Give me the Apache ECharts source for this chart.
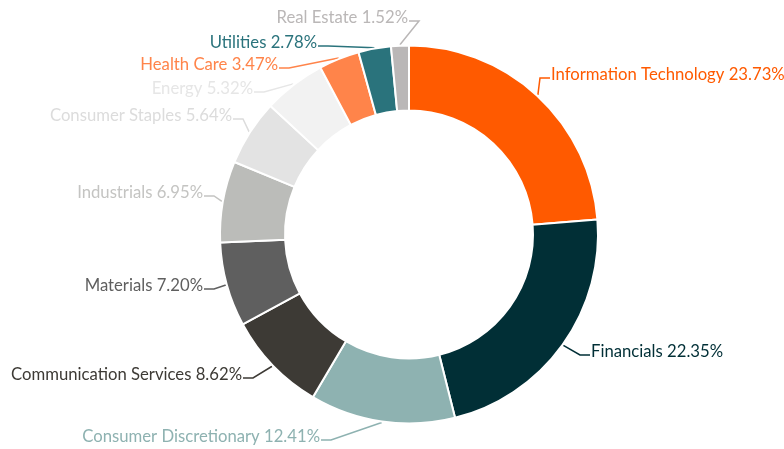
<!DOCTYPE html>
<html>
<head>
<meta charset="utf-8">
<script src="https://cdn.jsdelivr.net/npm/echarts@6/dist/echarts.min.js"></script>
<style>
  html, body { margin: 0; padding: 0; background: #fff; }
  #chart { width: 784px; height: 449px; }
</style>
</head>
<body>
<div id="chart"></div>
<script>
// Sector weights (%), clockwise from 12 o'clock
const sectors = [
  'Information Technology', 'Financials', 'Consumer Discretionary',
  'Communication Services', 'Materials', 'Industrials', 'Consumer Staples',
  'Energy', 'Health Care', 'Utilities', 'Real Estate'
];
const weights = [23.73, 22.35, 12.41, 8.62, 7.20, 6.95, 5.64, 5.32, 3.47, 2.78, 1.52];

const sliceColors = [
  '#ff5a00', '#012f36', '#8eb2b1', '#3d3a35', '#5f5f5f', '#bbbcb9',
  '#e3e3e3', '#f2f2f2', '#ff844a', '#2a737c', '#bab7b7'
];
const labelColors = [
  '#ff5a00', '#012f36', '#8eb2b1', '#3d3a35', '#5f5f5f', '#c4c4c2',
  '#dcdcdc', '#e6e6e6', '#ff844a', '#2a737c', '#bab7b7'
];

// Label anchors: [x, y, align]
const labelSpots = [
  [551, 74, 'left'], [591, 351, 'left'], [320, 436, 'right'],
  [242, 374, 'right'], [203, 285, 'right'], [203, 192, 'right'],
  [232, 115, 'right'], [253, 88, 'right'], [278, 64, 'right'],
  [317, 42, 'right'], [408, 17, 'right']
];

const cx = 409, cy = 234.5, rIn = 124, rOut = 189;
const total = weights.reduce((a, b) => a + b, 0);
const midAngles = [];
{
  let acc = 0;
  weights.forEach(w => {
    midAngles.push((90 - 360 * (acc + w / 2) / total) * Math.PI / 180);
    acc += w;
  });
}

const chart = echarts.init(document.getElementById('chart'), null, { renderer: 'canvas' });
chart.setOption({
  animation: false,
  series: [{
    type: 'pie',
    center: [cx, cy],
    radius: [rIn, rOut],
    startAngle: 90,
    clockwise: true,
    avoidLabelOverlap: false,
    itemStyle: { borderColor: '#ffffff', borderWidth: 2 },
    label: {
      show: true,
      position: 'outside',
      fontFamily: 'Lato',
      fontSize: 16.7,
      formatter: p => p.name + ' ' + weights[p.dataIndex].toFixed(2) + '%'
    },
    labelLine: { show: true, lineStyle: { width: 1.5 } },
    labelLayout: function (params) {
      const i = params.dataIndex;
      const s = labelSpots[i];
      const dir = s[2] === 'left' ? -1 : 1;
      const a = midAngles[i];
      const edge = [cx + (rOut + 1) * Math.cos(a), cy - (rOut + 1) * Math.sin(a)];
      const end = [s[0] + dir * 1, s[1] + 4];
      const elbow = [end[0] + dir * 10, end[1]];
      return {
        x: s[0], y: s[1] + 0.5, align: s[2], verticalAlign: 'middle',
        labelLinePoints: [edge, elbow, end]
      };
    },
    data: sectors.map((name, i) => ({
      name: name,
      value: weights[i],
      itemStyle: { color: sliceColors[i] },
      label: { color: labelColors[i] },
      labelLine: { lineStyle: { color: labelColors[i] } }
    }))
  }]
});
</script>
</body>
</html>
